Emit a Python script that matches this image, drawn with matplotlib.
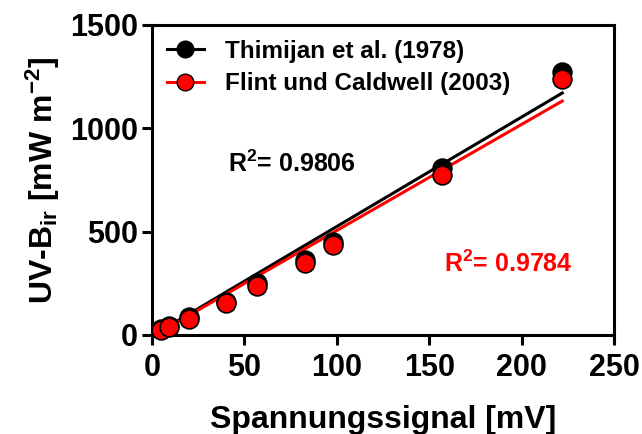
import numpy as np
import matplotlib
matplotlib.use("Agg")
import matplotlib.pyplot as plt

# Data
x_mv = [5, 9, 20, 40, 57, 83, 98, 157, 222]
thimijan = [30, 45, 87, 160, 252, 363, 450, 808, 1272]
flint = [22, 37, 77, 153, 238, 348, 435, 774, 1238]
# regression line values read at the ends of the fitted range
fit_x = [5, 222]
fit_thimijan = [22, 1171]
fit_flint = [18, 1132]
label_thimijan = "Thimijan et al. (1978)"
label_flint = "Flint und Caldwell (2003)"
r2_thimijan = "0.9806"
r2_flint = "0.9784"
xticks = [0, 50, 100, 150, 200, 250]
yticks = [0, 500, 1000, 1500]

plt.rcParams['font.family'] = ['Liberation Sans', 'DejaVu Sans']
plt.rcParams['font.weight'] = 'bold'
plt.rcParams['mathtext.fontset'] = 'custom'
plt.rcParams['mathtext.rm'] = 'Liberation Sans:bold'
plt.rcParams['mathtext.bf'] = 'Liberation Sans:bold'
plt.rcParams['mathtext.it'] = 'Liberation Sans:bold'
plt.rcParams['mathtext.default'] = 'bf'

fig = plt.figure(figsize=(6.42, 4.34), dpi=100)
ax = fig.add_axes([152/642, 1-335/434, 462/642, 310/434])

ax.plot(fit_x, fit_thimijan, color='black', lw=2.2, zorder=2)
ax.plot(fit_x, fit_flint, color='red', lw=2.2, zorder=2)

ax.plot(x_mv, thimijan, 'o', color='black', mec='black', ms=13.5, mew=1.2,
        zorder=3, clip_on=False)
ax.plot(x_mv, flint, 'o', color='red', mec='black', ms=13.5, mew=1.2,
        zorder=4, clip_on=False)

# legend handles
h1, = ax.plot([], [], '-o', color='black', mfc='black', mec='black', ms=12, lw=2.2)
h2, = ax.plot([], [], '-o', color='red', mfc='red', mec='black', ms=12, lw=2.2)
leg = ax.legend([h1, h2], [label_thimijan, label_flint], loc='upper left',
                frameon=False, fontsize=17.5, handlelength=1.55, handletextpad=0.85,
                borderaxespad=0.2, labelspacing=0.4, bbox_to_anchor=(0.0, 1.0))

ax.text(75.8, 830, r'R$^{2}$= ' + r2_thimijan, color='black', fontsize=18,
        fontweight='bold', ha='center', va='center')
ax.text(193, 343, r'R$^{2}$= ' + r2_flint, color='red', fontsize=18,
        fontweight='bold', ha='center', va='center')

ax.set_xlim(0, 250)
ax.set_ylim(0, 1500)
ax.set_xticks(xticks)
ax.set_yticks(yticks)
for s in ax.spines.values():
    s.set_linewidth(2.2)
ax.tick_params(axis='both', direction='out', length=7, width=2.2,
               labelsize=22, pad=3)
ax.tick_params(axis='x', pad=6)
for lab in ax.get_xticklabels() + ax.get_yticklabels():
    lab.set_fontweight('bold')

ax.set_xlabel('Spannungssignal [mV]', fontsize=23, fontweight='bold', labelpad=16)
ax.set_ylabel(r'UV-B$_{ir}$ [mW m$^{-2}$]', fontsize=23, fontweight='bold', labelpad=6)

fig.savefig('out.png', dpi=100)
